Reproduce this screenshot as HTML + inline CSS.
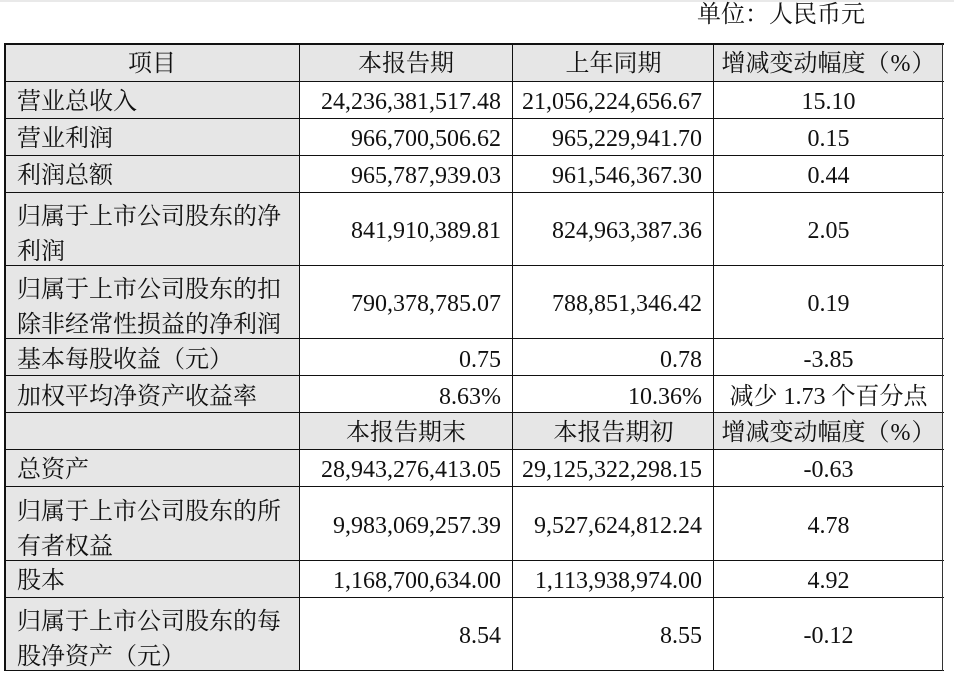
<!DOCTYPE html>
<html>
<head>
<meta charset="utf-8">
<style>
html,body{margin:0;padding:0;background:#fff;}
body{width:954px;height:681px;position:relative;overflow:hidden;
 font-family:"Liberation Serif","Noto Serif CJK SC","Noto Serif CJK JP",serif;font-size:24px;color:#111;}
.g{position:absolute;background:#e6e6e6;}
.h{position:absolute;left:4px;width:940px;height:1px;background:#111;}
.v{position:absolute;top:44px;height:627px;width:1px;background:#111;}
.c{position:absolute;display:flex;align-items:center;white-space:nowrap;line-height:28px;padding-top:2px;box-sizing:border-box;}
.l{left:5px;width:294px;padding-left:12px;}
.l2{position:absolute;left:17px;width:282px;line-height:35px;white-space:nowrap;}
.n2{left:299px;width:214px;justify-content:flex-end;padding-right:12px;}
.n3{left:513px;width:201px;justify-content:flex-end;padding-right:12px;}
.n4{left:714px;width:229px;justify-content:center;}
.hc1{left:5px;width:294px;justify-content:center;}
.hc2{left:299px;width:214px;justify-content:center;}
.hc3{left:513px;width:201px;justify-content:center;}
.p{padding:0 1px;}
</style>
</head>
<body>
<div style="position:absolute;left:0;top:0;width:954px;height:2px;background:#e9e9e9;"></div>
<div style="position:absolute;left:697px;top:1px;line-height:28px;white-space:nowrap;">单位：人民币元</div>

<!-- gray fills -->
<div class="g" style="left:5px;top:44px;width:938px;height:38px;"></div>
<div class="g" style="left:5px;top:82px;width:294px;height:589px;"></div>
<div class="g" style="left:5px;top:413px;width:938px;height:37px;"></div>

<!-- horizontal lines -->
<div class="h" style="height:2px;top:43px;"></div>
<div class="h" style="top:81px;"></div>
<div class="h" style="top:118px;"></div>
<div class="h" style="top:155px;"></div>
<div class="h" style="top:192px;"></div>
<div class="h" style="top:265px;"></div>
<div class="h" style="top:338px;"></div>
<div class="h" style="top:375px;"></div>
<div class="h" style="top:412px;"></div>
<div class="h" style="top:449px;"></div>
<div class="h" style="top:486px;"></div>
<div class="h" style="top:560px;"></div>
<div class="h" style="top:597px;"></div>
<div class="h" style="top:670px;"></div>

<!-- vertical lines -->
<div class="v" style="left:4px;width:2px;top:43px;height:628px;"></div>
<div class="v" style="left:299px;"></div>
<div class="v" style="left:512px;"></div>
<div class="v" style="left:713px;"></div>
<div class="v" style="left:942px;background:#333;"></div>

<!-- header row -->
<div class="c hc1" style="top:44px;height:38px;">项目</div>
<div class="c hc2" style="top:44px;height:38px;">本报告期</div>
<div class="c hc3" style="top:44px;height:38px;">上年同期</div>
<div class="c n4" style="top:44px;height:38px;">增减变动幅度（<span class="p">%</span>）</div>

<!-- row 2 -->
<div class="c l" style="top:82px;height:37px;">营业总收入</div>
<div class="c n2" style="top:82px;height:37px;">24,236,381,517.48</div>
<div class="c n3" style="top:82px;height:37px;">21,056,224,656.67</div>
<div class="c n4" style="top:82px;height:37px;">15.10</div>

<!-- row 3 -->
<div class="c l" style="top:119px;height:37px;">营业利润</div>
<div class="c n2" style="top:119px;height:37px;">966,700,506.62</div>
<div class="c n3" style="top:119px;height:37px;">965,229,941.70</div>
<div class="c n4" style="top:119px;height:37px;">0.15</div>

<!-- row 4 -->
<div class="c l" style="top:156px;height:37px;">利润总额</div>
<div class="c n2" style="top:156px;height:37px;">965,787,939.03</div>
<div class="c n3" style="top:156px;height:37px;">961,546,367.30</div>
<div class="c n4" style="top:156px;height:37px;">0.44</div>

<!-- row 5 -->
<div class="l2" style="top:200px;">归属于上市公司股东的净<br>利润</div>
<div class="c n2" style="top:193px;height:74px;">841,910,389.81</div>
<div class="c n3" style="top:193px;height:74px;">824,963,387.36</div>
<div class="c n4" style="top:193px;height:74px;">2.05</div>

<!-- row 6 -->
<div class="l2" style="top:273px;">归属于上市公司股东的扣<br>除非经常性损益的净利润</div>
<div class="c n2" style="top:266px;height:74px;">790,378,785.07</div>
<div class="c n3" style="top:266px;height:74px;">788,851,346.42</div>
<div class="c n4" style="top:266px;height:74px;">0.19</div>

<!-- row 7 -->
<div class="c l" style="top:340px;height:37px;">基本每股收益（元）</div>
<div class="c n2" style="top:340px;height:37px;">0.75</div>
<div class="c n3" style="top:340px;height:37px;">0.78</div>
<div class="c n4" style="top:340px;height:37px;">-3.85</div>

<!-- row 8 -->
<div class="c l" style="top:377px;height:37px;">加权平均净资产收益率</div>
<div class="c n2" style="top:377px;height:37px;">8.63%</div>
<div class="c n3" style="top:377px;height:37px;">10.36%</div>
<div class="c n4" style="top:377px;height:37px;">减少 1.73 个百分点</div>

<!-- row 9 header 2 -->
<div class="c hc2" style="top:413px;height:38px;">本报告期末</div>
<div class="c hc3" style="top:413px;height:38px;">本报告期初</div>
<div class="c n4" style="top:413px;height:38px;">增减变动幅度（<span class="p">%</span>）</div>

<!-- row 10 -->
<div class="c l" style="top:450px;height:38px;">总资产</div>
<div class="c n2" style="top:450px;height:38px;">28,943,276,413.05</div>
<div class="c n3" style="top:450px;height:38px;">29,125,322,298.15</div>
<div class="c n4" style="top:450px;height:38px;">-0.63</div>

<!-- row 11 -->
<div class="l2" style="top:495px;">归属于上市公司股东的所<br>有者权益</div>
<div class="c n2" style="top:487px;height:75px;">9,983,069,257.39</div>
<div class="c n3" style="top:487px;height:75px;">9,527,624,812.24</div>
<div class="c n4" style="top:487px;height:75px;">4.78</div>

<!-- row 12 -->
<div class="c l" style="top:561px;height:38px;">股本</div>
<div class="c n2" style="top:561px;height:38px;">1,168,700,634.00</div>
<div class="c n3" style="top:561px;height:38px;">1,113,938,974.00</div>
<div class="c n4" style="top:561px;height:38px;">4.92</div>

<!-- row 13 -->
<div class="l2" style="top:605px;">归属于上市公司股东的每<br>股净资产（元）</div>
<div class="c n2" style="top:598px;height:74px;">8.54</div>
<div class="c n3" style="top:598px;height:74px;">8.55</div>
<div class="c n4" style="top:598px;height:74px;">-0.12</div>
</body>
</html>
